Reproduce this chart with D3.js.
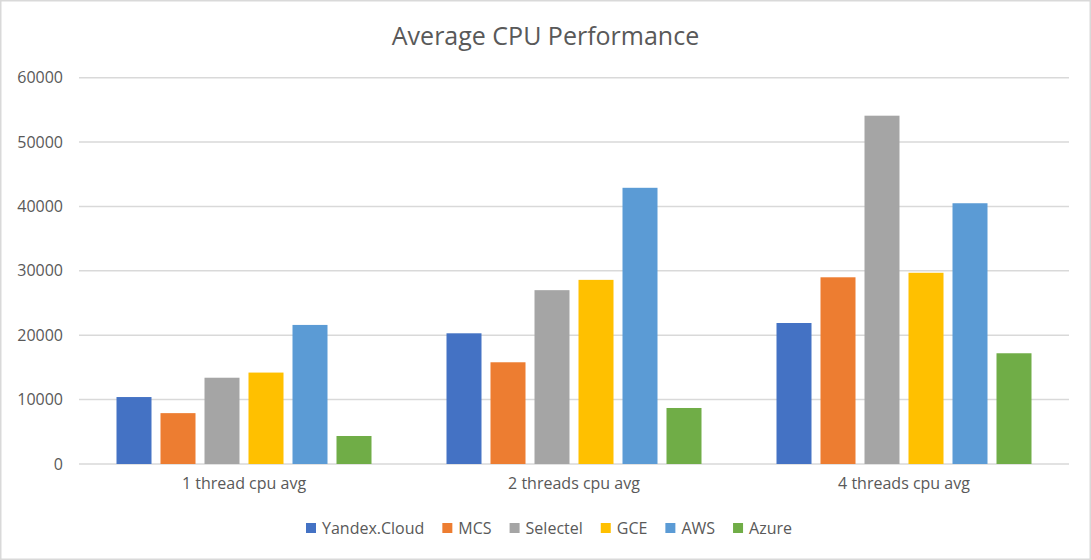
<!DOCTYPE html>
<html><head><meta charset="utf-8">
<script src="https://cdn.jsdelivr.net/npm/d3@7"></script>
<style>body{margin:0;background:#fff;}svg{display:block;}</style>
</head><body>
<script>
const categories = ["1 thread cpu avg", "2 threads cpu avg", "4 threads cpu avg"];
const seriesNames = ["Yandex.Cloud", "MCS", "Selectel", "GCE", "AWS", "Azure"];
const yandex   = [10400, 20300, 21900];
const mcs      = [7900, 15800, 29000];
const selectel = [13400, 27000, 54100];
const gce      = [14200, 28600, 29700];
const aws      = [21600, 42900, 40500];
const azure    = [4350, 8700, 17200];
const yTicks = [0, 10000, 20000, 30000, 40000, 50000, 60000];
const colors = ["#4472C4", "#ED7D31", "#A5A5A5", "#FFC000", "#5B9BD5", "#70AD47"];

const seriesValues = [yandex, mcs, selectel, gce, aws, azure];
const W = 1091, H = 560;
const font = "'Open Sans', 'Liberation Sans', sans-serif";
const textColor = "#595959";

const svg = d3.select("body").append("svg").attr("width", W).attr("height", H);
svg.append("rect").attr("x", 0.75).attr("y", 0.75).attr("width", W - 1.5).attr("height", H - 1.5)
  .attr("fill", "#fff").attr("stroke", "#d9d9d9").attr("stroke-width", 1.5);

const pLeft = 79, pRight = 1069, pTop = 77.7, pBottom = 464;
const x0 = d3.scaleBand().domain(categories).range([pLeft, pRight]).paddingInner(0).paddingOuter(0);
const outer = 37.5;
const x1 = d3.scaleBand().domain(seriesNames).range([outer, x0.bandwidth() - outer]).paddingInner(9/44).paddingOuter(0);
const y = d3.scaleLinear().domain([0, 60000]).range([pBottom, pTop]);

// gridlines
svg.append("g").selectAll("line").data(yTicks).join("line")
  .attr("x1", pLeft).attr("x2", pRight)
  .attr("y1", d => y(d)).attr("y2", d => y(d))
  .attr("stroke", "#d9d9d9").attr("stroke-width", 1.5);

// y axis labels
const yAxis = d3.axisLeft(y).tickValues(yTicks).tickSize(0).tickPadding(0).tickFormat(d3.format("d"));
const gy = svg.append("g").attr("transform", `translate(${pLeft - 16},0)`).call(yAxis);
gy.select(".domain").remove();
gy.selectAll("text").attr("font-family", font).attr("font-size", 16).attr("fill", textColor);

// bars
const groups = svg.append("g").selectAll("g").data(categories).join("g")
  .attr("transform", d => `translate(${x0(d)},0)`);
groups.selectAll("rect").data((c, ci) => seriesNames.map((s, si) => ({s, si, v: seriesValues[si][ci]})))
  .join("rect")
  .attr("x", d => x1(d.s)).attr("width", x1.bandwidth())
  .attr("y", d => y(d.v)).attr("height", d => y(0) - y(d.v))
  .attr("fill", d => colors[d.si]);

// x axis labels
const xAxis = d3.axisBottom(x0).tickSize(0).tickPadding(14);
const gx = svg.append("g").attr("transform", `translate(0,${pBottom})`).call(xAxis);
gx.select(".domain").remove();
gx.selectAll("text").attr("font-family", font).attr("font-size", 16).attr("fill", textColor);

// title
svg.append("text").attr("x", 545.5).attr("y", 45).attr("text-anchor", "middle")
  .attr("font-family", font).attr("font-size", 25).attr("fill", textColor)
  .text("Average CPU Performance");

// legend
const leg = svg.append("g");
let lx = 306;
seriesNames.forEach((s, i) => {
  const g = leg.append("g");
  g.append("rect").attr("x", lx).attr("y", 523).attr("width", 10).attr("height", 10).attr("fill", colors[i]);
  const t = g.append("text").attr("x", lx + 16).attr("y", 534)
    .attr("font-family", font).attr("font-size", 16).attr("fill", textColor).text(s);
  lx += 16 + t.node().getComputedTextLength() + 18;
});
</script>
</body></html>
